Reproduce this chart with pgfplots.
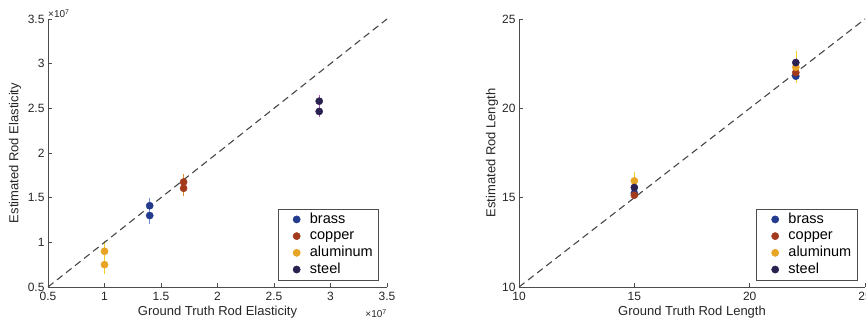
\documentclass[border=0pt]{standalone}
\usepackage{pgfplots}
\pgfplotsset{compat=1.18}
\usepackage{fontspec}
\setmainfont{Liberation Sans}
\definecolor{cbrass}{HTML}{233A8E}
\definecolor{cbrassE}{HTML}{6C8FD8}
\definecolor{ccopper}{HTML}{A23A1E}
\definecolor{ccopperE}{HTML}{E08A30}
\definecolor{calu}{HTML}{E8A425}
\definecolor{caluE}{HTML}{F5D020}
\definecolor{csteel}{HTML}{2B2150}
\definecolor{csteelE}{HTML}{B05AB8}
\pgfplotsset{
  myax/.style={
    scale only axis, height=268pt,
    axis x line*=bottom, axis y line*=left,
    axis line style={black!70, line width=0.5pt},
    tick style={black!70, line width=0.5pt},
    tick align=inside, major tick length=3.5pt,
    /pgf/number format/assume math mode=true,
    tick label style={font=\fontsize{12}{13}\selectfont, black!85},
    xticklabel style={yshift=-1.5pt},
    every axis x label/.style={at={([yshift=-25pt]axis description cs:0.5,0)}, anchor=center,
      font=\fontsize{13}{15}\selectfont, black!85},
    clip=false,
    legend cell align=left,
    legend style={font=\fontsize{14.5}{16}\selectfont, draw=black!70, line width=0.5pt,
      inner xsep=4.5pt, inner ysep=3.5pt, row sep=3.2pt,
      nodes={inner xsep=1pt, inner ysep=0pt, text height=10.5pt, text depth=3pt}},
    legend image code/.code={\path (0,0) (26pt,0); \fill[##1] (14pt,0) circle (3.6pt);},
  },
  dot/.style={only marks, mark=*, mark size=3.6pt,
    error bars/y dir=both, error bars/y explicit, error bars/error mark=none},
  diag/.style={black!72, dash pattern=on 7pt off 4.5pt, line width=1.1pt, forget plot},
}
\begin{document}
\begin{tikzpicture}[x=1pt,y=1pt]
\useasboundingbox (0,0) rectangle (866,326);
\begin{axis}[myax, width=339pt, at={(48pt,39pt)}, anchor=south west,
  xmin=0.5, xmax=3.5, ymin=0.5, ymax=3.5,
  xtick={0.5,1,1.5,2,2.5,3,3.5}, ytick={0.5,1,1.5,2,2.5,3,3.5},
  xlabel={Ground Truth Rod Elasticity}, ylabel={Estimated Rod Elasticity},
  every axis y label/.style={at={([xshift=-33pt]axis description cs:0,0.5)}, anchor=center, rotate=90,
    font=\fontsize{13}{15}\selectfont, black!85},
  legend style={at={(0.975,0.026)}, anchor=south east},
]
\addplot[dot, color=cbrass, mark options={fill=cbrass, draw=cbrass}, error bars/error bar style={cbrassE, line width=0.6pt}]
  coordinates {(1.4,1.41) +- (0,0.09) (1.4,1.30) +- (0,0.09)};
\addlegendentry{brass}
\addplot[dot, color=ccopper, mark options={fill=ccopper, draw=ccopper}, error bars/error bar style={ccopperE, line width=0.6pt}]
  coordinates {(1.7,1.675) +- (0,0.085) (1.7,1.605) +- (0,0.085)};
\addlegendentry{copper}
\addplot[dot, color=calu, mark options={fill=calu, draw=calu}, error bars/error bar style={caluE, line width=0.6pt}]
  coordinates {(1.0,0.90) +- (0,0.12) (1.0,0.75) +- (0,0.11)};
\addlegendentry{aluminum}
\addplot[dot, color=csteel, mark options={fill=csteel, draw=csteel}, error bars/error bar style={csteelE, line width=0.6pt}]
  coordinates {(2.9,2.58) +- (0,0.065) (2.9,2.465) +- (0,0.065)};
\addlegendentry{steel}
\addplot[diag] coordinates {(0.5,0.5) (3.5,3.5)};
\node[anchor=south west, font=\fontsize{10}{11}\selectfont, black!85, inner sep=0pt] at ([yshift=1pt]rel axis cs:0,1) {×10\textsuperscript{7}};
\node[anchor=north east, font=\fontsize{10}{11}\selectfont, black!85, inner sep=0pt] at ([yshift=-22pt]rel axis cs:1,0) {×10\textsuperscript{7}};
\end{axis}
\begin{axis}[myax, width=346pt, at={(519pt,39pt)}, anchor=south west,
  xmin=10, xmax=25, ymin=10, ymax=25,
  xtick={10,15,20,25}, ytick={10,15,20,25},
  xlabel={Ground Truth Rod Length}, ylabel={Estimated Rod Length},
  every axis y label/.style={at={([xshift=-27pt]axis description cs:0,0.5)}, anchor=center, rotate=90,
    font=\fontsize{13}{15}\selectfont, black!85},
  legend style={at={(0.977,0.026)}, anchor=south east},
]
\addplot[dot, color=cbrass, mark options={fill=cbrass, draw=cbrass}, error bars/error bar style={cbrassE, line width=0.6pt}]
  coordinates {(15,15.25) +- (0,0.25) (22,21.8) +- (0,0.35)};
\addlegendentry{brass}
\addplot[dot, color=ccopper, mark options={fill=ccopper, draw=ccopper}, error bars/error bar style={ccopperE, line width=0.6pt}]
  coordinates {(15,15.14) +- (0,0.2) (22,22.0) +- (0,0.25)};
\addlegendentry{copper}
\addplot[dot, color=calu, mark options={fill=calu, draw=calu}, error bars/error bar style={caluE, line width=0.6pt}]
  coordinates {(15,15.94) +- (0,0.5) (22,22.3) +- (0,0.9)};
\addlegendentry{aluminum}
\addplot[dot, color=csteel, mark options={fill=csteel, draw=csteel}, error bars/error bar style={csteelE, line width=0.6pt}]
  coordinates {(15,15.57) +- (0,0.25) (22,22.56) +- (0,0.25)};
\addlegendentry{steel}
\addplot[diag] coordinates {(10,10) (25,25)};
\end{axis}
\end{tikzpicture}
\end{document}
